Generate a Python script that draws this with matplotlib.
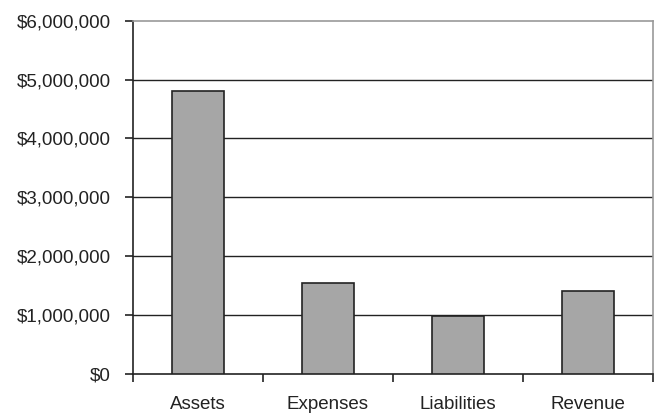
import numpy as np
import matplotlib
matplotlib.use("Agg")
import matplotlib.pyplot as plt
from matplotlib.ticker import FuncFormatter

# Account totals
categories = ["Assets", "Expenses", "Liabilities", "Revenue"]
amounts = [4810000, 1550000, 980000, 1410000]
y_ticks = [0, 1000000, 2000000, 3000000, 4000000, 5000000, 6000000]

plt.rcParams['font.family'] = ['Liberation Sans', 'DejaVu Sans']

fig = plt.figure(figsize=(6.55, 4.15), dpi=100)
ax = fig.add_axes([0.203, 0.099, 0.794, 0.851])

x = np.arange(len(categories))
ax.bar(x, amounts, width=0.4, color="#a6a6a6", edgecolor="#222222",
       linewidth=1.2, zorder=3)

ax.set_xlim(-0.5, len(categories) - 0.5)
ax.set_ylim(0, 6000000)

# horizontal gridlines at each million
for v in y_ticks[1:-1]:
    ax.axhline(v, color="#222222", linewidth=1.0, zorder=1)

ax.set_yticks(y_ticks)
ax.yaxis.set_major_formatter(FuncFormatter(lambda v, p: "${:,.0f}".format(v)))
ax.tick_params(axis="y", direction="out", length=6, width=1.2,
               labelsize=13.5, pad=10, colors="#222222")

# tick marks between categories, labels centered under bars
ax.set_xticks(np.arange(-0.5, len(categories), 1.0))
ax.set_xticklabels([])
ax.set_xticks(x, minor=True)
ax.set_xticklabels(categories, minor=True)
ax.tick_params(axis="x", which="major", direction="out", length=6, width=1.2,
               colors="#222222")
ax.tick_params(axis="x", which="minor", length=0, labelsize=13.5, pad=16,
               labelcolor="#222222")

for side in ["left", "bottom"]:
    ax.spines[side].set_color("#222222")
    ax.spines[side].set_linewidth(1.2)
for side in ["top", "right"]:
    ax.spines[side].set_color("#999999")
    ax.spines[side].set_linewidth(1.2)

fig.savefig("out.png", dpi=100)
